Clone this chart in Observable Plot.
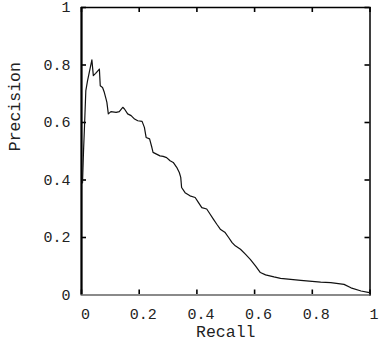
<!DOCTYPE html>
<html>
<head>
<meta charset="utf-8">
<script src="https://cdn.jsdelivr.net/npm/d3@7"></script>
<script src="https://cdn.jsdelivr.net/npm/@observablehq/plot@0.6"></script>
<style>
  html, body { margin: 0; padding: 0; background: #fff; }
  #chart svg { display: block; }
</style>
</head>
<body>
<div id="chart"></div>
<script>
const recall = [0.0035, 0.007, 0.0105, 0.015, 0.021, 0.036, 0.041, 0.049, 0.062, 0.065, 0.073, 0.079, 0.085, 0.088, 0.093, 0.102, 0.120, 0.131, 0.143, 0.149, 0.160, 0.172, 0.184, 0.195, 0.210, 0.218, 0.224, 0.236, 0.244, 0.248, 0.260, 0.272, 0.283, 0.295, 0.307, 0.318, 0.330, 0.339, 0.344, 0.347, 0.359, 0.376, 0.394, 0.405, 0.417, 0.434, 0.446, 0.457, 0.469, 0.481, 0.498, 0.510, 0.522, 0.533, 0.551, 0.568, 0.585, 0.603, 0.620, 0.638, 0.667, 0.690, 0.760, 0.829, 0.864, 0.910, 0.934, 0.969, 0.998];
const precision = [0.39, 0.50, 0.589, 0.711, 0.746, 0.818, 0.763, 0.771, 0.786, 0.728, 0.722, 0.705, 0.682, 0.670, 0.630, 0.638, 0.635, 0.638, 0.653, 0.647, 0.630, 0.624, 0.612, 0.606, 0.604, 0.583, 0.548, 0.543, 0.513, 0.496, 0.490, 0.484, 0.482, 0.478, 0.467, 0.461, 0.444, 0.426, 0.409, 0.374, 0.356, 0.345, 0.339, 0.322, 0.304, 0.299, 0.281, 0.264, 0.246, 0.229, 0.217, 0.200, 0.182, 0.171, 0.159, 0.142, 0.124, 0.101, 0.078, 0.070, 0.063, 0.058, 0.051, 0.045, 0.043, 0.037, 0.025, 0.014, 0.008];
const xTicks = [0, 0.2, 0.4, 0.6, 0.8, 1];
const yTicks = [0, 0.2, 0.4, 0.6, 0.8, 1];
const xTickLabels = ["0", "0.2", "0.4", "0.6", "0.8", "1"];
const yTickLabels = ["0", "0.2", "0.4", "0.6", "0.8", "1"];
const xLabel = "Recall";
const yLabel = "Precision";

const points = recall.map((r, i) => ({recall: r, precision: precision[i]}));
const fmtX = d => xTickLabels[xTicks.indexOf(d)];
const fmtY = d => yTickLabels[yTicks.indexOf(d)];
const font = "Liberation Mono, Courier New, monospace";

const W = 385, H = 345, mL = 81, mR = 15.5, mT = 7, mB = 50.5;
const frameW = W - mL - mR, frameH = H - mT - mB, tickPx = 5;
// inward tick length expressed as a fraction of each (unit) domain
const tx = tickPx / frameH, ty = tickPx / frameW;

const chart = Plot.plot({
  width: W,
  height: H,
  marginLeft: mL,
  marginRight: mR,
  marginTop: mT,
  marginBottom: mB,
  style: {fontFamily: font, fontSize: "15px", color: "#222", background: "#fff"},
  x: {domain: [0, 1]},
  y: {domain: [0, 1]},
  marks: [
    // tick labels
    Plot.axisX({anchor: "bottom", ticks: xTicks, tickSize: 0, tickPadding: 13, tickFormat: fmtX, dx: 4, label: null, fontSize: 15}),
    Plot.axisY({anchor: "left", ticks: yTicks, tickSize: 0, tickPadding: 11, tickFormat: fmtY, label: null, fontSize: 15}),
    // inward ticks on all four sides
    Plot.ruleX(xTicks, {x: d => d, y1: 0, y2: tx, stroke: "#000", strokeWidth: 1.6}),
    Plot.ruleX(xTicks, {x: d => d, y1: 1 - tx, y2: 1, stroke: "#000", strokeWidth: 1.6}),
    Plot.ruleY(yTicks, {y: d => d, x1: 0, x2: ty, stroke: "#000", strokeWidth: 1.6}),
    Plot.ruleY(yTicks, {y: d => d, x1: 1 - ty, x2: 1, stroke: "#000", strokeWidth: 1.6}),
    Plot.frame({stroke: "#000", strokeWidth: 1.5}),
    Plot.ruleY([0], {stroke: "#8a8a8a", strokeWidth: 2}),
    Plot.ruleX([0], {stroke: "#000", strokeWidth: 2}),
    Plot.line(points, {x: "recall", y: "precision", stroke: "#111", strokeWidth: 1.2}),
    Plot.text([xLabel], {frameAnchor: "bottom", dy: 42, text: d => d, fontSize: 16.5, fill: "#222"}),
    Plot.text([yLabel], {frameAnchor: "left", dx: -67, rotate: -90, text: d => d, fontSize: 16.5, fill: "#222"})
  ]
});
document.getElementById("chart").appendChild(chart);
</script>
</body>
</html>
